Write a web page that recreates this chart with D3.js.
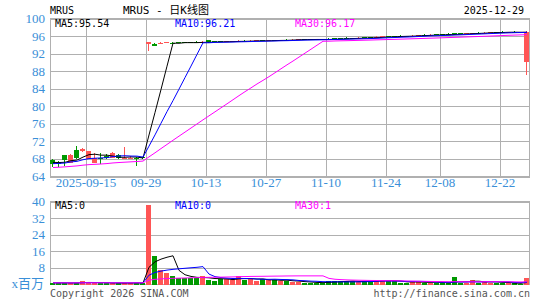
<!DOCTYPE html>
<html>
<head>
<meta charset="utf-8">
<script src="https://cdn.jsdelivr.net/npm/d3@7"></script>
<style>
  body { margin: 0; background: #fff; }
</style>
</head>
<body>
<div id="chart"></div>
<script>
// trading days shown on the chart
const dates = [
  "2025-09-05","2025-09-08","2025-09-09","2025-09-10","2025-09-11","2025-09-12","2025-09-15","2025-09-16","2025-09-17","2025-09-18",
  "2025-09-19","2025-09-22","2025-09-23","2025-09-24","2025-09-25","2025-09-26","2025-09-29","2025-09-30","2025-10-01","2025-10-02",
  "2025-10-03","2025-10-06","2025-10-07","2025-10-08","2025-10-09","2025-10-10","2025-10-13","2025-10-14","2025-10-15","2025-10-16",
  "2025-10-17","2025-10-20","2025-10-21","2025-10-22","2025-10-23","2025-10-24","2025-10-27","2025-10-28","2025-10-29","2025-10-30",
  "2025-10-31","2025-11-03","2025-11-04","2025-11-05","2025-11-06","2025-11-07","2025-11-10","2025-11-11","2025-11-12","2025-11-13",
  "2025-11-14","2025-11-17","2025-11-18","2025-11-19","2025-11-20","2025-11-21","2025-11-24","2025-11-25","2025-11-26","2025-11-28",
  "2025-12-01","2025-12-02","2025-12-03","2025-12-04","2025-12-05","2025-12-08","2025-12-09","2025-12-10","2025-12-11","2025-12-12",
  "2025-12-15","2025-12-16","2025-12-17","2025-12-18","2025-12-19","2025-12-22","2025-12-23","2025-12-24","2025-12-26","2025-12-29"
];

const opens = [
  67.7,67.2,68.8,67.1,70.0,69.7,68.0,67.1,68.2,68.6, 68.3,68.9,68.0,68.0,68.2,68.4,94.1,94.3,94.4,94.55,
  94.5,94.6,94.6,94.6,94.7,94.6,95.0,94.8,94.8,94.7, 94.7,94.8,94.9,94.8,94.9,95.0,94.9,95.1,95.0,95.2,
  95.1,95.2,95.3,95.3,95.3,95.3,95.4,95.5,95.5,95.6, 95.6,95.5,95.7,95.7,95.7,95.8,96.0,96.0,96.1,96.1,
  96.0,96.1,96.3,96.2,96.4,96.4,96.5,96.6,96.6,96.5, 96.6,96.8,96.7,96.8,96.9,97.0,96.8,97.0,96.9,90.2
];
const highs = [
  68.0,67.6,68.9,69.1,70.9,70.4,69.8,69.4,69.3,69.2, 69.5,69.1,70.7,68.6,68.5,68.5,94.7,94.4,94.6,94.7,
  94.6,94.7,94.7,94.7,94.8,94.8,95.1,94.9,94.9,94.9, 94.9,95.0,95.0,95.0,95.1,95.1,95.1,95.2,95.2,95.3,
  95.3,95.4,95.4,95.3,95.4,95.3,95.5,95.6,95.5,95.7, 95.6,95.7,95.8,95.7,95.9,96.0,96.1,96.0,96.2,96.1,
  96.2,96.3,96.4,96.4,96.5,96.4,96.6,96.7,96.6,96.7, 96.8,96.9,96.9,97.0,97.0,97.1,97.0,97.1,97.0,97.1
];
const lows = [
  66.2,66.2,66.4,67.0,68.0,69.5,67.9,67.0,66.8,67.9, 68.2,68.0,67.9,67.9,66.3,68.0,92.6,93.7,94.2,94.4,
  94.3,94.4,94.4,94.5,94.5,94.5,94.5,94.6,94.6,94.6, 94.6,94.7,94.7,94.7,94.8,94.8,94.8,94.9,94.9,95.0,
  95.0,95.1,95.1,95.1,95.1,95.1,95.2,95.3,95.3,95.4, 95.4,95.4,95.5,95.5,95.6,95.7,95.8,95.8,95.9,95.9,
  95.9,96.0,96.1,96.1,96.2,96.2,96.3,96.4,96.4,96.4, 96.5,96.6,96.6,96.7,96.7,96.8,96.7,96.8,96.7,87.2
];
const closes = [
  66.9,66.9,67.7,69.0,68.2,70.3,69.7,68.2,67.9,68.2, 69.3,68.3,68.2,68.3,68.0,68.2,94.6,93.8,94.5,94.6,
  94.4,94.5,94.5,94.5,94.6,94.7,94.6,94.7,94.7,94.8, 94.8,94.9,94.8,94.9,95.0,94.9,95.0,95.0,95.1,95.1,
  95.2,95.3,95.2,95.2,95.2,95.2,95.3,95.4,95.4,95.5, 95.5,95.6,95.6,95.6,95.8,95.9,95.9,95.9,96.0,96.0,
  96.1,96.2,96.2,96.3,96.3,96.3,96.4,96.5,96.5,96.6, 96.7,96.7,96.8,96.9,96.8,96.9,96.9,96.9,96.8,96.9
];
// closes before the first shown day (feed the moving averages at the left edge)
const priorCloses = [
  64.8,65.2,65.6,65.0,65.4,65.9,66.1,65.7,65.3,65.0,65.5,65.8,66.0,65.6,65.4,
  65.8,66.0,65.7,66.2,66.0,66.4,66.8,66.5,66.9,66.6,67.1,67.4,67.2,67.5
];

// volume, millions of shares
const volumes = [
  0.8,0.6,0.9,0.7,0.8,1.6,0.9,0.8,0.7,0.6, 0.7,0.6,0.8,0.7,0.9,0.8,38.3,13.9,7.2,5.5,
  4.3,3.2,3.3,3.2,3.2,4.0,2.4,1.6,2.7,2.7, 2.4,4.3,2.1,2.7,1.6,2.7,2.1,2.1,1.6,1.9,
  1.3,1.3,0.8,0.8,0.8,0.8,1.9,1.6,1.6,1.6, 1.6,1.1,1.6,1.6,2.4,1.9,1.6,1.6,0.8,0.5,
  1.6,1.6,0.8,0.8,0.8,0.8,0.8,3.4,0.8,0.8, 2.1,0.8,1.9,0.8,0.8,0.8,0.5,0.5,0.3,2.9
];
const priorVolumes = [
  0.8,0.7,0.9,0.8,0.7,0.8,0.9,0.8,0.7,0.8,0.8,0.9,0.7,0.8,0.8,
  0.7,0.8,0.9,0.8,0.8,0.7,0.8,0.9,0.8,0.7,0.8,0.8,0.9,0.8
];

const priceTicks = [64, 68, 72, 76, 80, 84, 88, 92, 96, 100];
const volTicks = [8, 16, 24, 32, 40];
const tickDates = ["2025-09-15","2025-09-29","2025-10-13","2025-10-27","2025-11-10","2025-11-24","2025-12-08","2025-12-22"];
const tickLabels = ["2025-09-15","09-29","10-13","10-27","11-10","11-24","12-08","12-22"];

const priceMaLabels = ["MA5:95.54", "MA10:96.21", "MA30:96.17"];
const volMaLabels = ["MA5:0", "MA10:0", "MA30:1"];

const RED = "#ff5555", GREEN = "#009900", GRID = "#b0b0b0", AXIS = "#3a8fd8";
const maColors = ["#000000", "#0000ff", "#ff00ff"];
const maPeriods = [5, 10, 30];
const mono = "'DejaVu Sans Mono', 'Noto Sans CJK SC', monospace";
const serif = "'Liberation Serif', 'Noto Sans CJK SC', serif";

const W = 545, H = 300;
const svg = d3.select("#chart").append("svg")
    .attr("width", W)
    .attr("height", H);

const x = d3.scaleBand().domain(dates).range([50, 530]).padding(0);
const bw = x.bandwidth();
const yP = d3.scaleLinear().domain([64, 100]).range([176.5, 18.5]);
const yV = d3.scaleLinear().domain([0, 40]).range([284.5, 201.5]);

function movingAvg(vals, prior, n) {
  const all = prior.concat(vals);
  const off = prior.length;
  return vals.map((v, i) => d3.mean(all.slice(off + i - n + 1, off + i + 1)));
}

const up = dates.map((d, i) => closes[i] >= opens[i]);

// ---- price panel ----
const gP = svg.append("g");
gP.selectAll(".hgrid").data(priceTicks).enter().append("line")
    .attr("x1", 50).attr("x2", 530)
    .attr("y1", d => Math.round(yP(d)) + 0.5).attr("y2", d => Math.round(yP(d)) + 0.5)
    .attr("stroke", GRID);
gP.selectAll(".vgrid").data(tickDates).enter().append("line")
    .attr("x1", d => x(d) + 0.5).attr("x2", d => x(d) + 0.5)
    .attr("y1", 18).attr("y2", 177)
    .attr("stroke", GRID);
gP.append("rect")
    .attr("x", 50.5).attr("y", 18.5).attr("width", 479).attr("height", 158)
    .attr("fill", "none").attr("stroke", GRID);

// y labels
gP.selectAll(".ylab").data(priceTicks).enter().append("text")
    .attr("x", 45).attr("y", d => yP(d)).attr("dy", "0.35em")
    .attr("text-anchor", "end")
    .style("font", "13px " + serif).attr("fill", AXIS)
    .text(d => d);
// x labels
gP.selectAll(".xlab").data(tickDates).enter().append("text")
    .attr("x", d => x(d)).attr("y", 187)
    .attr("text-anchor", "middle")
    .style("font", "13px " + serif).attr("fill", AXIS)
    .text((d, i) => tickLabels[i]);

// candles
const candle = gP.selectAll(".candle").data(dates).enter().append("g")
    .attr("fill", (d, i) => up[i] ? RED : GREEN);
candle.append("rect")
    .attr("x", d => x(d) + 2)
    .attr("width", 1)
    .attr("y", (d, i) => Math.round(yP(highs[i])))
    .attr("height", (d, i) => Math.max(1, Math.round(yP(lows[i])) - Math.round(yP(highs[i]))));
candle.append("rect")
    .attr("x", d => x(d))
    .attr("width", bw - 1)
    .attr("y", (d, i) => Math.round(yP(Math.max(opens[i], closes[i]))))
    .attr("height", (d, i) => Math.max(1, Math.round(yP(Math.min(opens[i], closes[i]))) - Math.round(yP(Math.max(opens[i], closes[i])))));

// moving averages of close
maPeriods.forEach((n, k) => {
  const ma = movingAvg(closes, priorCloses, n);
  gP.append("path")
      .datum(ma)
      .attr("fill", "none")
      .attr("stroke", maColors[k])
      .attr("stroke-width", 1)
      .attr("d", d3.line().x((d, i) => x(dates[i]) + bw / 2).y(d => yP(d)));
});

priceMaLabels.forEach((t, k) => {
  gP.append("text").attr("x", 55 + 120 * k).attr("y", 27)
      .style("font", "10px " + mono).attr("fill", maColors[k]).text(t);
});

// header
svg.append("text").attr("x", 50).attr("y", 14)
    .style("font", "10px " + mono).attr("fill", "#000").text("MRUS");
svg.append("text").attr("x", 166).attr("y", 14).attr("text-anchor", "middle")
    .style("font", "11px " + mono).attr("fill", "#000").text("MRUS - 日K线图");
svg.append("text").attr("x", 524).attr("y", 14).attr("text-anchor", "end")
    .style("font", "10px " + mono).attr("fill", "#000").text("2025-12-29");

// ---- volume panel ----
const gV = svg.append("g");
gV.selectAll(".hgrid").data(volTicks).enter().append("line")
    .attr("x1", 50).attr("x2", 530)
    .attr("y1", d => Math.round(yV(d)) + 0.5).attr("y2", d => Math.round(yV(d)) + 0.5)
    .attr("stroke", GRID);
gV.append("rect")
    .attr("x", 50.5).attr("y", 201.5).attr("width", 479).attr("height", 83)
    .attr("fill", "none").attr("stroke", GRID);

gV.selectAll(".ylab").data(volTicks).enter().append("text")
    .attr("x", 45).attr("y", d => yV(d)).attr("dy", "0.35em")
    .attr("text-anchor", "end")
    .style("font", "13px " + serif).attr("fill", AXIS)
    .text(d => d);
gV.append("text").attr("x", 44).attr("y", 288).attr("text-anchor", "end")
    .style("font", "13px " + serif).attr("fill", AXIS).text("x百万");

gV.selectAll(".bar").data(dates).enter().append("rect")
    .attr("x", d => x(d))
    .attr("width", bw - 1)
    .attr("y", (d, i) => Math.round(yV(volumes[i])))
    .attr("height", (d, i) => Math.max(1, 285 - Math.round(yV(volumes[i]))))
    .attr("fill", (d, i) => up[i] ? RED : GREEN);

maPeriods.forEach((n, k) => {
  const ma = movingAvg(volumes, priorVolumes, n);
  gV.append("path")
      .datum(ma)
      .attr("fill", "none")
      .attr("stroke", maColors[k])
      .attr("stroke-width", 1)
      .attr("d", d3.line().x((d, i) => x(dates[i]) + bw / 2).y(d => yV(d)));
});

volMaLabels.forEach((t, k) => {
  gV.append("text").attr("x", 55 + 120 * k).attr("y", 209)
      .style("font", "10px " + mono).attr("fill", maColors[k]).text(t);
});

// footer
svg.append("text").attr("x", 50).attr("y", 297)
    .style("font", "10px " + mono).attr("fill", "#555").text("Copyright 2026 SINA.COM");
svg.append("text").attr("x", 530).attr("y", 297).attr("text-anchor", "end")
    .style("font", "10px " + mono).attr("fill", "#555").text("http://finance.sina.com.cn");
</script>
</body>
</html>
